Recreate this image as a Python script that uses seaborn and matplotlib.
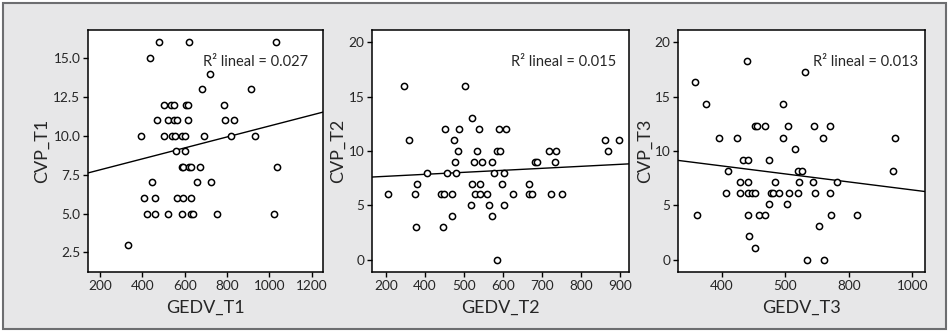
"""
CVP vs GEDV scatter plots with linear fit, three time points (T1, T2, T3)
"""

import numpy as np
import pandas as pd
import matplotlib
matplotlib.use('Agg')
import matplotlib.pyplot as plt
import seaborn as sns
from matplotlib.patches import Rectangle

# ---- data ----
gedv_t1 = [479, 618, 1031,
           437,
           720,
           680, 913,
           500, 535, 550, 605, 615, 786,
           469, 520, 550, 565, 617, 792, 833,
           395, 500, 540, 555, 588, 603, 690, 819, 932,
           557, 600,
           585, 593, 620, 630, 671, 1037,
           444, 659, 725,
           409, 460, 565, 591, 629,
           420, 460, 520, 586, 630, 641, 754, 1022,
           330]
cvp_t1 = [16] * 3 + [15] + [14] + [13] * 2 + [12] * 6 + [11] * 7 + [10] * 9 + \
         [9] * 2 + [8] * 6 + [7] * 3 + [6] * 5 + [5] * 8 + [3]

gedv_t2 = [345, 502,
           520,
           452, 487, 539, 589, 607,
           360, 474, 862, 898,
           485, 533, 586, 592, 719, 736, 869,
           477, 526, 547, 572, 682, 689, 734,
           404, 456, 479, 577, 604,
           380, 520, 541, 598, 667,
           304, 374, 441, 449, 470, 528, 541, 560, 626, 667, 675, 723, 751,
           517, 564, 604,
           470, 573,
           377, 446,
           584]
cvp_t2 = [16] * 2 + [13] + [12] * 5 + [11] * 4 + [10] * 7 + [9] * 7 + [8] * 5 + \
         [7] * 5 + [6] * 13 + [5] * 3 + [4] * 2 + [3] * 2 + [0]

gedv_t3 = [479,
           662,
           315,
           350, 594,
           503, 511, 535, 608, 691, 742,
           391, 447, 594, 720, 944,
           630,
           468, 483, 548,
           420, 641, 654, 939,
           457, 481, 568, 642, 688, 764,
           413, 458, 481, 494, 505, 554, 561, 581, 612, 641, 694, 742,
           548, 604,
           321, 483, 516, 537, 744, 825,
           706,
           485,
           505,
           667, 723]
cvp_t3 = [18.3] + [17.3] + [16.3] + [14.3] * 2 + [12.3] * 6 + [11.2] * 5 + [10.2] + \
         [9.2] * 3 + [8.2] * 4 + [7.1] * 6 + [6.1] * 12 + [5.1] * 2 + [4.1] * 6 + \
         [3.1] + [2.2] + [1.1] + [0] * 2

r2_values = ['0.027', '0.015', '0.013']

# tick positions and the labels as printed on the original
x_ticks = [[200, 400, 600, 800, 1000, 1200],
           [300, 400, 500, 600, 700, 800, 900],
           [400, 600, 800, 1000]]
x_ticklabels = [['200', '400', '600', '800', '1000', '1200'],
                ['200', '400', '500', '600', '700', '800', '900'],
                ['400', '500', '800', '1000']]
y_ticks = [[2.5, 5.0, 7.5, 10.0, 12.5, 15.0],
           [0, 5, 10, 15, 20],
           [0, 5, 10, 15, 20]]
y_ticklabels = [['2.5', '5.0', '7.5', '10.0', '12.5', '15.0'],
                ['0', '5', '10', '15', '20'],
                ['0', '5', '10', '15', '20']]

sns.set_style('ticks')
plt.rcParams['font.family'] = ['Lato', 'DejaVu Sans']

W, H = 949, 331
fig = plt.figure(figsize=(W / 100, H / 100), dpi=100)
fig.patch.set_facecolor('white')
fig.patches.append(Rectangle((3 / W, 2 / H), 943 / W, 326 / H, transform=fig.transFigure,
                             facecolor='#e7e7e8', edgecolor='#6d6e70', lw=1.5, zorder=-10))

# axes boxes in pixels: left, right, top, bottom
boxes = [(88, 323, 30, 272), (372, 629, 30, 272), (678, 925, 30, 272)]
xlims = [(143, 1253), (264, 924), (262, 1040)]
ylims = [(1.24, 16.8), (-1.14, 21.13), (-1.14, 21.13)]
ylabel_x = [-0.162, -0.100, -0.101]
text_x = [0.936, 0.952, 0.973]

panels = [(gedv_t1, cvp_t1, 'GEDV_T1', 'CVP_T1'),
          (gedv_t2, cvp_t2, 'GEDV_T2', 'CVP_T2'),
          (gedv_t3, cvp_t3, 'GEDV_T3', 'CVP_T3')]

for i, (xv, yv, xname, yname) in enumerate(panels):
    l, r, t, b = boxes[i]
    ax = fig.add_axes([l / W, 1 - b / H, (r - l) / W, (b - t) / H])
    ax.set_facecolor('white')
    ax.set_xlim(*xlims[i])
    ax.set_ylim(*ylims[i])
    df = pd.DataFrame({xname: xv, yname: yv})
    sns.regplot(data=df, x=xname, y=yname, ax=ax, ci=None, truncate=False, color='black',
                scatter_kws=dict(facecolor='white', edgecolor='black', s=20,
                                 linewidths=1.1, alpha=1, zorder=3),
                line_kws=dict(color='black', lw=1.0, zorder=2))
    ax.set_xlim(*xlims[i])
    ax.set_ylim(*ylims[i])
    ax.set_xticks(x_ticks[i])
    ax.set_xticklabels(x_ticklabels[i])
    ax.set_yticks(y_ticks[i])
    ax.set_yticklabels(y_ticklabels[i])
    ax.tick_params(length=3.5, width=1.0, labelsize=9.8, pad=2, color='black')
    for sp in ax.spines.values():
        sp.set_visible(True)
        sp.set_linewidth(1.1)
        sp.set_color('black')
    ax.set_xlabel(xname, fontsize=13)
    ax.set_ylabel(yname, fontsize=13)
    ax.xaxis.set_label_coords(0.5, -0.116)
    ax.yaxis.set_label_coords(ylabel_x[i], 0.5)
    ax.text(text_x[i], 0.868, f'R\u00b2 lineal = {r2_values[i]}', transform=ax.transAxes,
            ha='right', va='center', fontsize=10.5)

plt.savefig('out.png', dpi=100)
plt.close()
